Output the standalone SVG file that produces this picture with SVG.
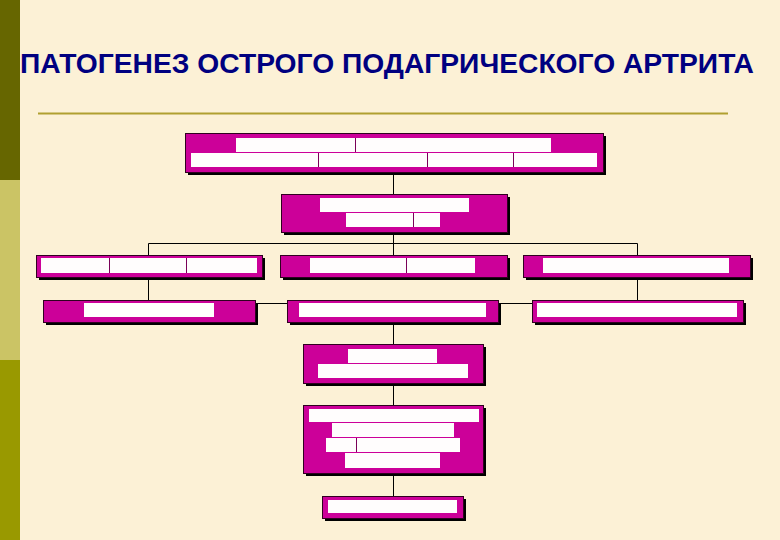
<svg xmlns="http://www.w3.org/2000/svg" width="780" height="540" viewBox="0 0 780 540">
<defs>
<style>
.box{fill:#cc0099;stroke:#300020;stroke-width:1}
.sh{fill:#000}
.bar{fill:#fffdfd}
.dv{stroke:#7a0058;stroke-width:1}
.cn{stroke:#000;stroke-width:1;fill:none}
.title{font-family:"Liberation Sans",Arial,sans-serif;font-weight:bold;font-size:27px;fill:#000080}
</style>
</defs>
<rect width="780" height="540" fill="#fcf1d6"/>
<rect x="0" y="0" width="20" height="180" fill="#666600"/>
<rect x="0" y="180" width="20" height="180" fill="#cbc465"/>
<rect x="0" y="360" width="20" height="180" fill="#999900"/>
<text class="title" x="20" y="73" textLength="734" lengthAdjust="spacingAndGlyphs">ПАТОГЕНЕЗ ОСТРОГО ПОДАГРИЧЕСКОГО АРТРИТА</text>
<line x1="38" y1="113.5" x2="728" y2="113.5" stroke="#b0a030" stroke-width="2"/>
<g id="connectors">
<path class="cn" d="M393.5 172V194M393.5 232V243.5M148.5 243.5H637.5M148.5 243.5V255M393.5 243.5V255M637.5 243.5V255M148.5 277V300M637.5 277V300M255 303.5H287M498 303.5H532M393.5 322V344M393.5 383V405M393.5 473V496"/>
</g>
<g id="n1">
<rect class="sh" x="188" y="136" width="418" height="39"/>
<rect class="box" x="185.5" y="133.5" width="418" height="39"/>
<rect class="bar" x="236" y="138" width="315" height="14"/>
<rect class="bar" x="191" y="153" width="406" height="14"/>
<path class="dv" d="M355.5 138V152M318.5 153V167M427.5 153V167M513.5 153V167"/>
</g>
<g id="n2">
<rect class="sh" x="284" y="197" width="226" height="38"/>
<rect class="box" x="281.5" y="194.5" width="226" height="38"/>
<rect class="bar" x="320" y="198" width="149" height="14"/>
<rect class="bar" x="346" y="213" width="94" height="14"/>
<path class="dv" d="M413.5 213V227"/>
</g>
<g id="n3">
<rect class="sh" x="39" y="258" width="226" height="22"/>
<rect class="box" x="36.5" y="255.5" width="226" height="22"/>
<rect class="bar" x="41" y="258" width="216" height="15"/>
<path class="dv" d="M109.5 258V273M186.5 258V273"/>
</g>
<g id="n4">
<rect class="sh" x="283" y="258" width="227" height="22"/>
<rect class="box" x="280.5" y="255.5" width="227" height="22"/>
<rect class="bar" x="310" y="258" width="165" height="15"/>
<path class="dv" d="M406.5 258V273"/>
</g>
<g id="n5">
<rect class="sh" x="526" y="258" width="227" height="22"/>
<rect class="box" x="523.5" y="255.5" width="227" height="22"/>
<rect class="bar" x="543" y="258" width="186" height="15"/>
</g>
<g id="n6">
<rect class="sh" x="46" y="303" width="212" height="22"/>
<rect class="box" x="43.5" y="300.5" width="212" height="22"/>
<rect class="bar" x="84" y="303" width="130" height="14"/>
</g>
<g id="n7">
<rect class="sh" x="290" y="303" width="211" height="22"/>
<rect class="box" x="287.5" y="300.5" width="211" height="22"/>
<rect class="bar" x="299" y="303" width="187" height="14"/>
</g>
<g id="n8">
<rect class="sh" x="535" y="303" width="211" height="22"/>
<rect class="box" x="532.5" y="300.5" width="211" height="22"/>
<rect class="bar" x="537" y="303" width="200" height="14"/>
</g>
<g id="n9">
<rect class="sh" x="306" y="347" width="180" height="39"/>
<rect class="box" x="303.5" y="344.5" width="180" height="39"/>
<rect class="bar" x="348" y="349" width="89" height="14"/>
<rect class="bar" x="318" y="364" width="150" height="14"/>
</g>
<g id="n10">
<rect class="sh" x="306" y="408" width="180" height="68"/>
<rect class="box" x="303.5" y="405.5" width="180" height="68"/>
<rect class="bar" x="309" y="409" width="170" height="13"/>
<rect class="bar" x="332" y="423" width="122" height="14"/>
<rect class="bar" x="326" y="438" width="134" height="14"/>
<rect class="bar" x="345" y="453" width="95" height="15"/>
<path class="dv" d="M356.5 438V452"/>
</g>
<g id="n11">
<rect class="sh" x="325" y="499" width="141" height="22"/>
<rect class="box" x="322.5" y="496.5" width="141" height="22"/>
<rect class="bar" x="328" y="500" width="129" height="13"/>
</g>
</svg>
